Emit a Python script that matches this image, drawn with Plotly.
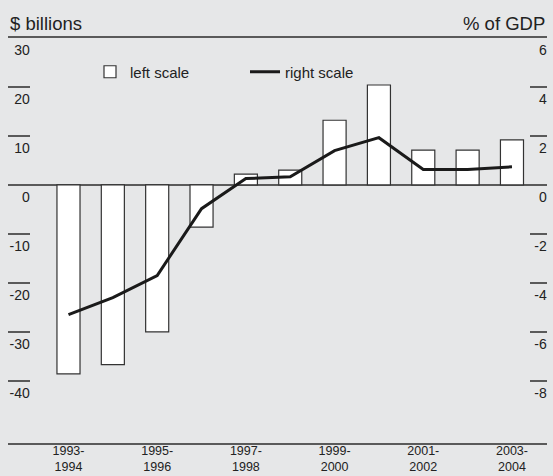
import plotly.graph_objects as go

periods = ["1993-1994", "1994-1995", "1995-1996", "1996-1997", "1997-1998", "1998-1999",
           "1999-2000", "2000-2001", "2001-2002", "2002-2003", "2003-2004"]
bars_billions = [-38.6, -36.7, -30.0, -8.6, 2.2, 3.0, 13.2, 20.4, 7.1, 7.1, 9.2]
line_pct_gdp = [-5.3, -4.6, -3.7, -0.97, 0.26, 0.33, 1.4, 1.93, 0.63, 0.63, 0.74]
left_ticks = [-40, -30, -20, -10, 0, 10, 20, 30]
right_ticks = [-8, -6, -4, -2, 0, 2, 4, 6]
label_every = 2

x_idx = list(range(len(periods)))
tick_idx = x_idx[::label_every]
tick_text = [periods[i].replace("-", "-<br>") for i in tick_idx]

FONT = "Liberation Sans, Arial, Helvetica, sans-serif"
TXT = "#222222"
BG = "#e6e7e8"
AX = "#5a5a5a"

fig = go.Figure()
fig.add_trace(go.Bar(
    x=x_idx, y=bars_billions, name="left scale", width=0.52,
    marker=dict(color="white", line=dict(color="#333333", width=1.2)),
    yaxis="y",
))
fig.add_trace(go.Scatter(
    x=x_idx, y=line_pct_gdp, name="right scale", mode="lines",
    line=dict(color="#1a1a1a", width=3), yaxis="y2",
))

fig.update_layout(
    width=553, height=476,
    margin=dict(l=8, r=6, t=38, b=33, autoexpand=False),
    paper_bgcolor=BG, plot_bgcolor=BG,
    font=dict(family=FONT, color=TXT, size=14),
    showlegend=True,
    legend=dict(orientation="h", x=(90 - 8) / 539, xanchor="left",
                y=1 - 34 / 405, yanchor="middle", bgcolor="rgba(0,0,0,0)",
                font=dict(size=15, color=TXT), entrywidth=110, traceorder="normal"),
    xaxis=dict(range=[-1.364, 10.79], tickvals=tick_idx, ticktext=tick_text,
               showline=True, mirror=True, linecolor=AX, linewidth=1.5,
               showgrid=False, zeroline=False, ticks="", automargin=False,
               ticklabeloverflow="allow", ticklabelstandoff=-5,
               tickfont=dict(size=12.5, color=TXT)),
    yaxis=dict(range=[-52.7, 30], tickvals=left_ticks,
               ticktext=[str(v) for v in left_ticks], side="right",
               anchor="free", position=22 / 539, automargin=False,
               ticks="inside", ticklen=22, tickwidth=1.5, tickcolor=AX,
               ticklabelposition="inside", ticklabelshift=12, ticklabelstandoff=-22,
               ticklabeloverflow="allow",
               showgrid=False, showline=False,
               zeroline=True, zerolinecolor=AX, zerolinewidth=1.5,
               tickfont=dict(size=14, color=TXT)),
    yaxis2=dict(range=[-10.54, 6], tickvals=right_ticks,
                ticktext=[str(v) for v in right_ticks], side="right",
                overlaying="y", anchor="x", automargin=False,
                ticks="inside", ticklen=17, tickwidth=1.5, tickcolor=AX,
                ticklabelposition="inside", ticklabelshift=12, ticklabelstandoff=-17,
                ticklabeloverflow="allow",
                showgrid=False, showline=False, zeroline=False,
                tickfont=dict(size=14, color=TXT)),
    annotations=[
        dict(text="$ billions", xref="paper", yref="paper", x=0, y=1,
             xanchor="left", yanchor="bottom", yshift=2, showarrow=False,
             font=dict(size=18.5, color=TXT)),
        dict(text="% of GDP", xref="paper", yref="paper", x=1, y=1,
             xanchor="right", yanchor="bottom", yshift=2, showarrow=False,
             font=dict(size=18.5, color=TXT)),
    ],
)

fig.write_html(
    "out.html",
    config={"displayModeBar": False},
    post_script="document.body.style.margin='0';document.body.style.background='%s';" % BG,
)
